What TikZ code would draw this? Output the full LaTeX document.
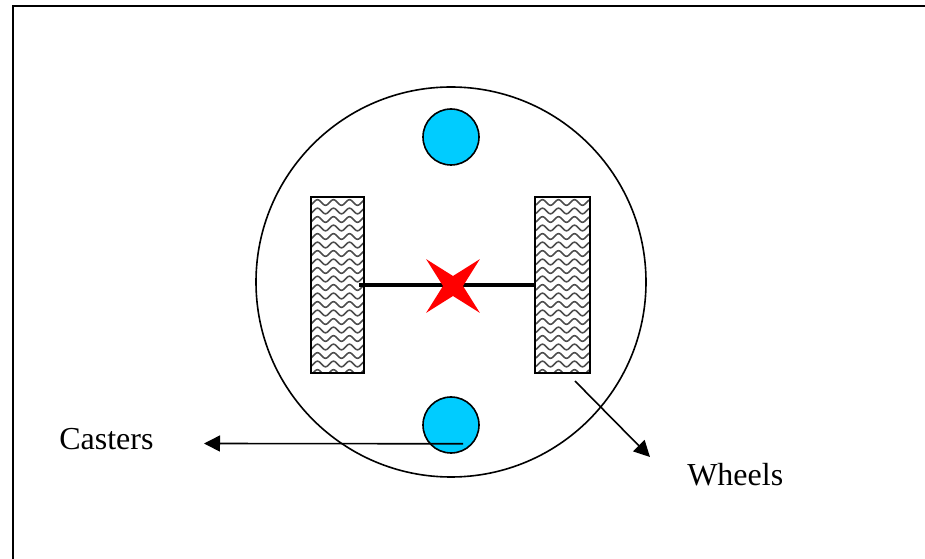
\documentclass[tikz,border=0pt]{standalone}
\usepackage{fontspec}
\setmainfont{Liberation Serif}
\usetikzlibrary{arrows.meta,shapes.geometric}
\definecolor{casterblue}{RGB}{0,204,255}
\tikzset{
  wheelbox/.style={draw=black,line width=1.4pt,minimum height=132pt,inner sep=0pt},
  caster/.style={circle,draw=black,line width=1.2pt,fill=casterblue,minimum size=42pt,inner sep=0pt},
  pointer/.style={line width=1.2pt,-{Triangle[length=12pt,width=12pt]}},
  lab/.style={font=\fontsize{24}{28}\selectfont,inner sep=0pt},
  wave/.style={line width=1.15pt,black!70},
}
\begin{document}
\begin{tikzpicture}[x=0.75pt,y=-0.75pt]
  \useasboundingbox (0,0) rectangle (925,559);
  % outer frame
  \draw[line width=1.5pt] (13,559) -- (13,6) -- (925,6);
  \node[circle,draw=black,line width=1.2pt,minimum size=292.5pt,inner sep=0pt] (chassis) at (451,282) {};
  \node[caster] (casterT) at (451,137) {};
  \node[caster] (casterB) at (451,425) {};
  % wheels with the wavy fill
  \foreach \name/\cx/\hw in {wheelL/337.5/26.7,wheelR/562.5/27.5} {
    \begin{scope}
      \clip (\cx-\hw,197) rectangle (\cx+\hw,373);
      \foreach \y in {0,...,20} {
        \draw[wave] plot[domain=-30:30,samples=61,smooth] (\cx+\x,{202.5+\y*8.5+2.8*sin(22.5*\x)});
      }
    \end{scope}
    \node[wheelbox,minimum width=1.5pt*\hw] (\name) at (\cx,285) {};
  }
  \draw[line width=3.4pt] ([xshift=-4.5pt]wheelL.east) -- (wheelR.west);
  \node[star,star points=4,star point ratio=3.8,shape border rotate=45,fill=red,minimum size=57pt,inner sep=0pt] (hub) at (453,286) {};
  \node[lab,anchor=base west] (casters) at (59,450) {Casters};
  \node[lab,anchor=base west] (wheels) at (687,486) {Wheels};
  \coordinate (casterEnd) at (204,443.5);
  \coordinate (wheelStart) at (575,381);
  \coordinate (wheelEnd) at (650,457);
  \draw[pointer] ([xshift=9pt,yshift=7.5pt]casterB.south) -- (casterEnd);
  \draw[pointer] (wheelStart) -- (wheelEnd);
\end{tikzpicture}
\end{document}
